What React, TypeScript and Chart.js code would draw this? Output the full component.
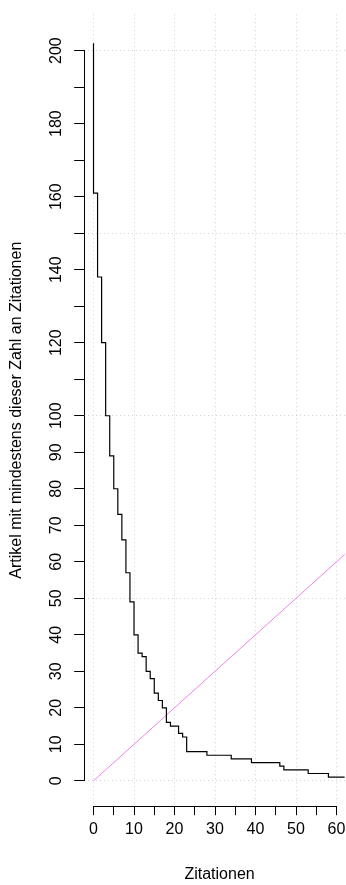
import { useEffect, useRef } from 'react';
import { Chart, registerables } from 'chart.js';

Chart.register(...registerables);

// ---- data ----
const citations = [
  0, 1, 2, 3, 4, 5, 6, 7, 8, 9, 10, 11, 12, 13, 14, 15, 16, 17, 18, 19, 20,
  21, 22, 23, 24, 25, 26, 27, 28, 29, 30, 31, 32, 33, 34, 35, 36, 37, 38, 39,
  40, 41, 42, 43, 44, 45, 46, 47, 48, 49, 50, 51, 52, 53, 54, 55, 56, 57, 58,
  59, 60, 61, 62,
];
const articles = [
  202, 161, 138, 120, 100, 89, 80, 73, 66, 57, 49, 40, 35, 34, 30, 28, 24, 22,
  20, 16, 15, 15, 13, 12, 8, 8, 8, 8, 8, 7, 7, 7, 7, 7, 7, 6, 6, 6, 6, 6, 5, 5,
  5, 5, 5, 5, 5, 4, 3, 3, 3, 3, 3, 3, 2, 2, 2, 2, 2, 1, 1, 1, 1,
];
const diagonal = [0, 62];

const xTickValues = [0, 5, 10, 15, 20, 25, 30, 35, 40, 45, 50, 55, 60];
const xLabelValues = [0, 10, 20, 30, 40, 50, 60];
const xGridValues = [0, 10, 20, 30, 40, 50, 60];
const yTickValues = [
  0, 10, 20, 30, 40, 50, 60, 70, 80, 90, 100, 110, 120, 130, 140, 150, 160,
  170, 180, 190, 200,
];
const yLabelValues = [0, 10, 20, 30, 40, 50, 60, 70, 80, 90, 100, 120, 140, 160, 180, 200];
const yGridValues = [0, 50, 100, 150, 200];

const xTitle = 'Zitationen';
const yTitle = 'Artikel mit mindestens dieser Zahl an Zitationen';

// ---- layout / style ----
const W = 346; // visible page width
const CW = 355; // canvas width (plot region runs past the right edge, as in the original)
const H = 885;
const FONT = '"Liberation Sans", Arial, Helvetica, sans-serif';
const GRID = '#D3D3D3';
const X_MIN = -2.3;
const X_MAX = 64.54;
const Y_MIN = -6.95;
const Y_MAX = 209.97;

const rAxisLines = {
  id: 'rAxisLines',
  afterDraw(chart: any) {
    const { ctx, chartArea, scales } = chart;
    const xs = scales.x;
    const ys = scales.y;
    ctx.save();
    ctx.strokeStyle = '#000';
    ctx.lineWidth = 1;
    ctx.setLineDash([]);
    ctx.lineCap = 'square';
    const ax = Math.floor(chartArea.left) + 0.5;
    const ay = Math.floor(chartArea.bottom) + 0.5;
    ctx.beginPath();
    ctx.moveTo(ax, Math.floor(ys.getPixelForValue(yTickValues[0])) + 0.5);
    ctx.lineTo(ax, Math.floor(ys.getPixelForValue(yTickValues[yTickValues.length - 1])) + 0.5);
    ctx.moveTo(Math.floor(xs.getPixelForValue(xTickValues[0])) + 0.5, ay);
    ctx.lineTo(Math.floor(xs.getPixelForValue(xTickValues[xTickValues.length - 1])) + 0.5, ay);
    ctx.stroke();
    ctx.restore();
  },
};

export default function App() {
  const ref = useRef<HTMLCanvasElement | null>(null);

  useEffect(() => {
    if (!ref.current) return;
    const font = { family: FONT, size: 16, lineHeight: 1.2 };
    const chart = new Chart(ref.current, {
      type: 'line',
      data: {
        datasets: [
          {
            data: citations.map((c, i) => ({ x: c, y: articles[i] })),
            borderColor: '#000',
            borderWidth: 1.2,
            pointRadius: 0,
            stepped: 'after',
            fill: false,
          },
          {
            data: diagonal.map((v) => ({ x: v, y: v })),
            borderColor: '#EE82EE',
            borderWidth: 1,
            pointRadius: 0,
            fill: false,
          },
        ],
      },
      options: {
        animation: false,
        responsive: false,
        devicePixelRatio: 1,
        layout: { padding: { top: 3.6, right: 0.1, bottom: 0, left: 0 } },
        plugins: { legend: { display: false }, tooltip: { enabled: false } },
        scales: {
          x: {
            type: 'linear',
            min: X_MIN,
            max: X_MAX,
            afterBuildTicks: (s: any) => {
              s.ticks = xTickValues.map((v) => ({ value: v }));
            },
            afterFit: (s: any) => {
              s.height = H - 806.2;
            },
            grid: {
              display: true,
              drawOnChartArea: true,
              drawTicks: true,
              tickLength: 9,
              lineWidth: 1,
              tickWidth: 1,
              tickColor: '#000',
              tickBorderDash: [],
              color: (c: any) =>
                c.tick && xGridValues.includes(c.tick.value) ? GRID : 'rgba(0,0,0,0)',
            },
            border: { display: false, dash: [1, 3] },
            ticks: {
              autoSkip: false,
              minRotation: 0,
              maxRotation: 0,
              padding: 4.7,
              color: '#000',
              font,
              callback: (v: any) => (xLabelValues.includes(Number(v)) ? String(v) : ''),
            },
            title: {
              display: true,
              text: xTitle,
              color: '#000',
              font,
              padding: { top: 0, bottom: 0.9 },
            },
          },
          y: {
            type: 'linear',
            min: Y_MIN,
            max: Y_MAX,
            afterBuildTicks: (s: any) => {
              s.ticks = yTickValues.map((v) => ({ value: v }));
            },
            afterFit: (s: any) => {
              s.width = 84.2;
            },
            grid: {
              display: true,
              drawOnChartArea: true,
              drawTicks: true,
              tickLength: 10,
              lineWidth: 1,
              tickWidth: 1,
              tickColor: '#000',
              tickBorderDash: [],
              color: (c: any) =>
                c.tick && yGridValues.includes(c.tick.value) ? GRID : 'rgba(0,0,0,0)',
            },
            border: { display: false, dash: [1, 3] },
            ticks: {
              autoSkip: false,
              minRotation: 90,
              maxRotation: 90,
              crossAlign: 'center',
              padding: 4.65,
              color: '#000',
              font,
              callback: (v: any) => (yLabelValues.includes(Number(v)) ? String(v) : ''),
            },
            title: {
              display: true,
              text: yTitle,
              color: '#000',
              font,
              padding: { top: 6.6, bottom: 0 },
            },
          },
        },
      },
      plugins: [rAxisLines],
    } as any);
    return () => chart.destroy();
  }, []);

  return (
    <div
      style={{
        position: 'absolute',
        left: 0,
        top: 0,
        width: W,
        height: H,
        overflow: 'hidden',
        background: '#fff',
      }}
    >
      <canvas ref={ref} width={CW} height={H} style={{ display: 'block', width: CW, height: H }} />
    </div>
  );
}
